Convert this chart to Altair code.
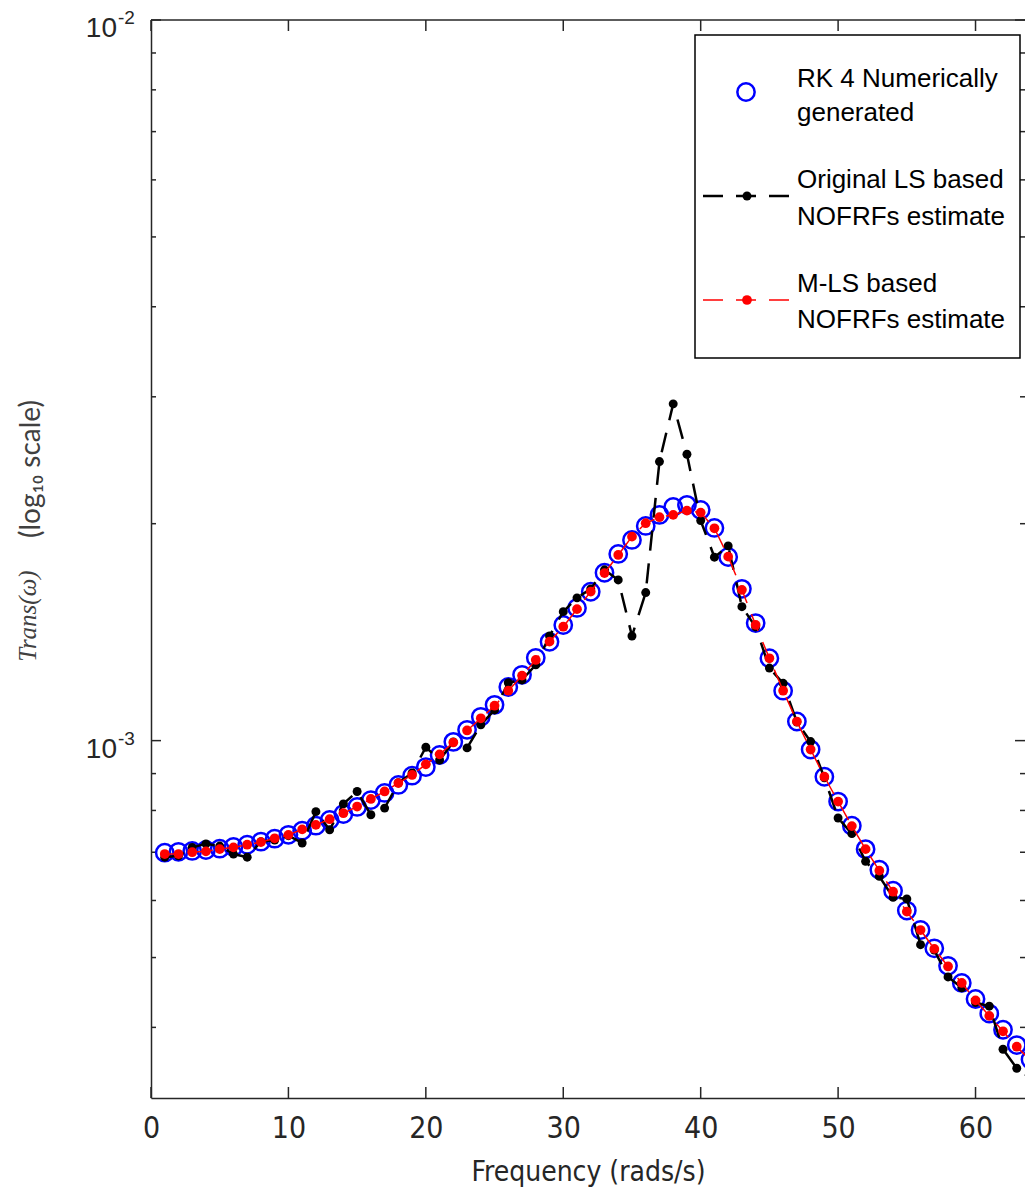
import altair as alt
import pandas as pd

# ---------------- data ----------------
freq = list(range(1, 65))

rk4 = [6.99e-4, 7.01e-4, 7.03e-4, 7.05e-4, 7.08e-4, 7.12e-4, 7.17e-4, 7.24e-4, 7.31e-4, 7.40e-4,
       7.50e-4, 7.62e-4, 7.76e-4, 7.91e-4, 8.09e-4, 8.27e-4, 8.46e-4, 8.68e-4, 8.94e-4, 9.19e-4,
       9.55e-4, 9.96e-4, 1.035e-3, 1.079e-3, 1.121e-3, 1.187e-3, 1.234e-3, 1.303e-3, 1.371e-3, 1.447e-3,
       1.528e-3, 1.609e-3, 1.710e-3, 1.816e-3, 1.899e-3, 1.986e-3, 2.057e-3, 2.110e-3, 2.124e-3, 2.090e-3,
       1.973e-3, 1.798e-3, 1.624e-3, 1.456e-3, 1.301e-3, 1.173e-3, 1.063e-3, 9.72e-4, 8.91e-4, 8.23e-4,
       7.62e-4, 7.07e-4, 6.62e-4, 6.19e-4, 5.81e-4, 5.46e-4, 5.15e-4, 4.87e-4, 4.61e-4, 4.38e-4,
       4.18e-4, 3.97e-4, 3.78e-4, 3.61e-4]

orig_ls = [6.89e-4, 6.92e-4, 7.11e-4, 7.19e-4, 7.14e-4, 6.96e-4, 6.89e-4, 7.24e-4, 7.28e-4, 7.38e-4,
           7.21e-4, 7.97e-4, 7.52e-4, 8.17e-4, 8.50e-4, 7.89e-4, 8.06e-4, 8.74e-4, 9.02e-4, 9.79e-4,
           9.40e-4, 9.96e-4, 9.77e-4, 1.052e-3, 1.103e-3, 1.203e-3, 1.214e-3, 1.274e-3, 1.397e-3, 1.510e-3,
           1.578e-3, 1.624e-3, 1.726e-3, 1.671e-3, 1.397e-3, 1.605e-3, 2.439e-3, 2.933e-3, 2.497e-3, 2.020e-3,
           1.797e-3, 1.863e-3, 1.534e-3, 1.438e-3, 1.261e-3, 1.201e-3, 1.061e-3, 9.97e-4, 8.88e-4, 7.81e-4,
           7.43e-4, 6.80e-4, 6.48e-4, 6.06e-4, 6.03e-4, 5.21e-4, 5.12e-4, 4.70e-4, 4.54e-4, 4.33e-4,
           4.28e-4, 3.73e-4, 3.51e-4, 3.40e-4]

m_ls = [6.96e-4, 6.96e-4, 7.00e-4, 7.02e-4, 7.07e-4, 7.11e-4, 7.17e-4, 7.23e-4, 7.32e-4, 7.40e-4,
        7.53e-4, 7.64e-4, 7.78e-4, 7.93e-4, 8.10e-4, 8.30e-4, 8.50e-4, 8.73e-4, 8.96e-4, 9.27e-4,
        9.57e-4, 9.94e-4, 1.033e-3, 1.074e-3, 1.118e-3, 1.173e-3, 1.231e-3, 1.294e-3, 1.372e-3, 1.439e-3,
        1.522e-3, 1.610e-3, 1.708e-3, 1.810e-3, 1.919e-3, 2.003e-3, 2.042e-3, 2.057e-3, 2.085e-3, 2.072e-3,
        1.971e-3, 1.800e-3, 1.619e-3, 1.447e-3, 1.301e-3, 1.173e-3, 1.063e-3, 9.72e-4, 8.91e-4, 8.23e-4,
        7.61e-4, 7.07e-4, 6.60e-4, 6.17e-4, 5.79e-4, 5.46e-4, 5.14e-4, 4.86e-4, 4.61e-4, 4.36e-4,
        4.15e-4, 3.95e-4, 3.76e-4, 3.60e-4]

x_tick_values = [0, 10, 20, 30, 40, 50, 60]
y_major_values = [1e-3, 1e-2]
y_major_exponents = ["-3", "-2"]
y_minor_values = [4e-4, 5e-4, 6e-4, 7e-4, 8e-4, 9e-4,
                  2e-3, 3e-3, 4e-3, 5e-3, 6e-3, 7e-3, 8e-3, 9e-3]

legend_lines = [["RK 4 Numerically", "generated"],
                ["Original LS based", "NOFRFs estimate"],
                ["M-LS based", "NOFRFs estimate"]]

x_title = "Frequency (rads/s)"
y_title_main = "Trans(\u03c9)"
y_title_unit = "(log\u2081\u2080 scale)"

# ---------------- layout / style ----------------
W, H = 874, 1078
AX = "#262626"
SANS = "Liberation Sans, Arial, Helvetica, sans-serif"
NARROW = "Liberation Sans Narrow, Arial Narrow, DejaVu Sans Condensed, Liberation Sans, sans-serif"

xs = alt.Scale(domain=[0, 63.6], nice=False, zero=False)
ys = alt.Scale(type="log", domain=[3.192e-4, 1e-2], nice=False)

x_axis = alt.Axis(values=x_tick_values, format="d", ticks=False, tickSize=0, grid=False,
                  domainColor=AX, domainWidth=1.5, labelFont=NARROW, labelFontSize=30,
                  labelColor=AX, labelPadding=15, labelFlush=False,
                  title=x_title, titleFont=NARROW, titleFontSize=28, titleFontWeight="normal",
                  titleColor=AX, titlePadding=15)
y_axis = alt.Axis(labels=False, ticks=False, tickSize=0, grid=False,
                  domainColor=AX, domainWidth=1.5, title="")


def X():
    return alt.X("freq:Q", scale=xs, axis=x_axis)


def Y():
    return alt.Y("val:Q", scale=ys, axis=y_axis)


one = pd.DataFrame({"k": [0]})
df_xt = pd.DataFrame({"freq": x_tick_values})
df_ymaj = pd.DataFrame({"val": y_major_values, "exp": y_major_exponents})
df_ymin = pd.DataFrame({"val": y_minor_values})
df_rk4 = pd.DataFrame({"freq": freq, "val": rk4})
df_ls = pd.DataFrame({"freq": freq, "val": orig_ls})
df_mls = pd.DataFrame({"freq": freq, "val": m_ls})

layers = []
# frame + ticks
layers.append(alt.Chart(one).mark_rule(color=AX, strokeWidth=1.5).encode(
    x=alt.value(0), x2=alt.value(W), y=alt.value(0)))
layers.append(alt.Chart(df_xt).mark_rule(color=AX, strokeWidth=1.5).encode(
    x=X(), y=alt.value(H), y2=alt.value(H - 11)))
layers.append(alt.Chart(df_xt).mark_rule(color=AX, strokeWidth=1.5).encode(
    x=X(), y=alt.value(0), y2=alt.value(11)))
for x0, x1 in [(0, 10), (W, W - 10)]:
    layers.append(alt.Chart(df_ymaj).mark_rule(color=AX, strokeWidth=1.5).encode(
        y=Y(), x=alt.value(x0), x2=alt.value(x1)))
for x0, x1 in [(0, 5), (W, W - 5)]:
    layers.append(alt.Chart(df_ymin).mark_rule(color=AX, strokeWidth=1.5).encode(
        y=Y(), x=alt.value(x0), x2=alt.value(x1)))

# y tick labels 10^-n
layers.append(alt.Chart(df_ymaj).mark_text(text="10", align="right", baseline="alphabetic",
                                           dy=17, font=SANS, fontSize=28, color=AX).encode(
    y=Y(), x=alt.value(-34)))
layers.append(alt.Chart(df_ymaj).mark_text(align="left", baseline="alphabetic",
                                           dy=4, font=SANS, fontSize=19, color=AX).encode(
    y=Y(), x=alt.value(-33), text="exp:N"))

# y title
layers.append(alt.Chart(one).mark_text(text=y_title_main, angle=270, align="center", baseline="middle",
                                       font="Liberation Serif, Times New Roman, serif", fontStyle="italic",
                                       fontSize=25, color="#404040").encode(
    x=alt.value(-123), y=alt.value(596)))
layers.append(alt.Chart(one).mark_text(text=y_title_unit, angle=270, align="center", baseline="middle",
                                       font="Lato, Liberation Sans, sans-serif",
                                       fontSize=28, color="#404040").encode(
    x=alt.value(-119), y=alt.value(449)))

# series
layers.append(alt.Chart(df_rk4).mark_point(shape="circle", filled=False, color="#0000FF",
                                           size=300, strokeWidth=2.5, opacity=1).encode(x=X(), y=Y()))
layers.append(alt.Chart(df_ls).mark_line(color="black", strokeWidth=2.5, strokeDash=[20, 13]).encode(
    x=X(), y=Y()))
layers.append(alt.Chart(df_ls).mark_circle(color="black", size=80, opacity=1).encode(x=X(), y=Y()))
layers.append(alt.Chart(df_mls).mark_line(color="#FF0000", strokeWidth=1.5, strokeDash=[18, 12]).encode(
    x=X(), y=Y()))
layers.append(alt.Chart(df_mls).mark_circle(color="#FF0000", size=95, opacity=1).encode(x=X(), y=Y()))

# legend box
layers.append(alt.Chart(one).mark_rect(fill="white", stroke="black", strokeWidth=1.5).encode(
    x=alt.value(544), x2=alt.value(869), y=alt.value(15), y2=alt.value(338)))
layers.append(alt.Chart(one).mark_point(shape="circle", filled=False, color="#0000FF",
                                        size=300, strokeWidth=2.5, opacity=1).encode(
    x=alt.value(595), y=alt.value(72)))
layers.append(alt.Chart(one).mark_rule(color="black", strokeWidth=2.5, strokeDash=[20, 13]).encode(
    x=alt.value(552), x2=alt.value(639), y=alt.value(176)))
layers.append(alt.Chart(one).mark_circle(color="black", size=80, opacity=1).encode(
    x=alt.value(596), y=alt.value(176)))
layers.append(alt.Chart(one).mark_rule(color="#FF0000", strokeWidth=1.5, strokeDash=[20, 13]).encode(
    x=alt.value(552), x2=alt.value(639), y=alt.value(280)))
layers.append(alt.Chart(one).mark_circle(color="#FF0000", size=95, opacity=1).encode(
    x=alt.value(596), y=alt.value(280)))

legend_baselines = [[67, 101], [168, 205], [272, 308]]
for lines, bases in zip(legend_lines, legend_baselines):
    for txt, by in zip(lines, bases):
        layers.append(alt.Chart(one).mark_text(text=txt, align="left", baseline="alphabetic",
                                               font=SANS, fontSize=26, color="black").encode(
            x=alt.value(646), y=alt.value(by)))

chart = alt.layer(*layers).properties(
    width=W, height=H,
    autosize=alt.AutoSizeParams(type="none"),
    padding={"left": 143, "top": 12, "right": 0, "bottom": 92},
).configure_view(strokeWidth=0)

chart.save("out.html", embed_options={"renderer": "svg", "actions": False})
